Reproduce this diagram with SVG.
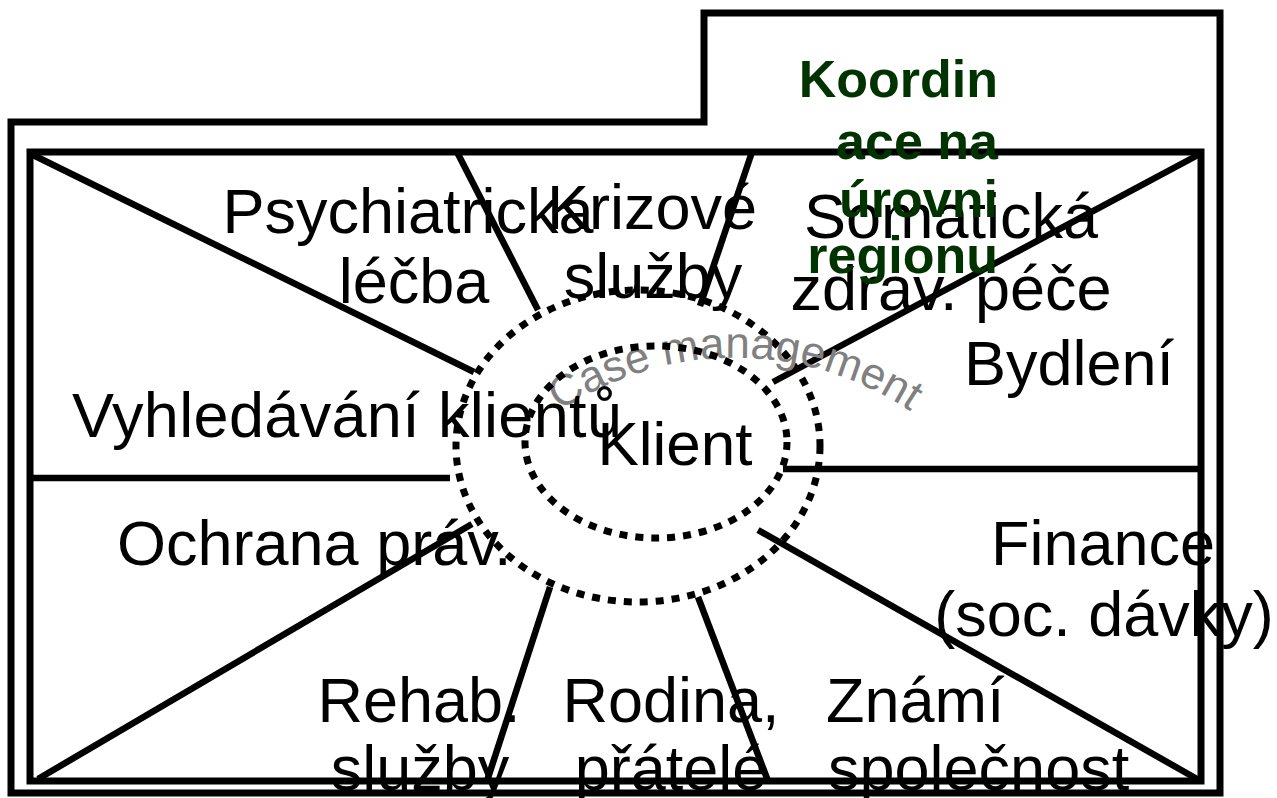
<svg xmlns="http://www.w3.org/2000/svg" width="1277" height="798" viewBox="0 0 1277 798">
<defs>
<style>
.frame{fill:none;stroke:#000;stroke-width:7;stroke-linejoin:miter}
.spoke{stroke:#000;stroke-width:6.5;fill:none}
.dot{fill:none;stroke:#000;stroke-width:7;stroke-dasharray:8 8}
.lbl{font-family:"Liberation Sans",Arial,sans-serif;font-size:63px;fill:#000}
.mid{text-anchor:middle}
.coord{font-family:"Liberation Sans",Arial,sans-serif;font-size:52px;font-weight:bold;fill:#003300;text-anchor:end}
.cm{font-family:"Liberation Sans",Arial,sans-serif;font-size:44px;fill:#808080}
</style>
<path id="cmArc" d="M533,431.5 A314,314 0 0 1 937,431.5"/>
</defs>
<rect width="1277" height="798" fill="#fff"/>
<g id="frames">
<path class="frame" d="M11,793 L11,122 L704,122 L704,13 L1220,13 L1220,793 Z"/>
<rect class="frame" x="30" y="152" width="1171" height="629"/>
</g>
<g id="connectors">
<line class="spoke" x1="33" y1="155" x2="474" y2="372"/>
<line class="spoke" x1="457" y1="152" x2="538" y2="310"/>
<line class="spoke" x1="752" y1="152" x2="700" y2="306"/>
<line class="spoke" x1="1198" y1="155" x2="773" y2="382"/>
<line class="spoke" x1="30" y1="478" x2="450" y2="478"/>
<line class="spoke" x1="783" y1="469" x2="1201" y2="469"/>
<line class="spoke" x1="758" y1="530" x2="1197" y2="779"/>
<line class="spoke" x1="698" y1="597" x2="768" y2="781"/>
<line class="spoke" x1="550" y1="587" x2="487" y2="781"/>
<line class="spoke" x1="472" y1="524" x2="38" y2="779"/>
</g>
<g id="case-management">
<ellipse class="dot" cx="638" cy="446" rx="182" ry="156"/>
<text class="cm"><textPath href="#cmArc" startOffset="50%" text-anchor="middle">Case management</textPath></text>
</g>
<g id="klient">
<ellipse class="dot" cx="656" cy="442" rx="131" ry="96"/>
<text class="lbl mid" x="675" y="465" style="font-size:62px">Klient</text>
</g>
<g id="psychiatricka">
<text class="lbl mid" x="408" y="233">Psychiatrická</text>
<text class="lbl mid" x="414" y="303">léčba</text>
</g>
<g id="krizove">
<text class="lbl mid" x="652" y="229">Krizové</text>
<text class="lbl mid" x="653" y="298">služby</text>
</g>
<g id="somaticka">
<text class="lbl mid" x="951" y="238">Somatická</text>
<text class="lbl mid" x="951" y="310">zdrav. péče</text>
</g>
<g id="bydleni">
<text class="lbl mid" x="1069" y="385">Bydlení</text>
</g>
<g id="vyhledavani">
<text class="lbl" x="72" y="437" textLength="550" lengthAdjust="spacing">Vyhledávání klientů</text>
</g>
<g id="ochrana">
<text class="lbl" x="117" y="565">Ochrana práv.</text>
</g>
<g id="finance">
<text class="lbl mid" x="1103" y="565">Finance</text>
<text class="lbl mid" x="1104" y="636">(soc. dávky)</text>
</g>
<g id="rehab">
<text class="lbl mid" x="419" y="722">Rehab.</text>
<text class="lbl mid" x="420" y="790">služby</text>
</g>
<g id="rodina">
<text class="lbl mid" x="671" y="722">Rodina,</text>
<text class="lbl mid" x="671" y="790">přátelé</text>
</g>
<g id="znami">
<text class="lbl" x="826" y="722">Známí</text>
<text class="lbl" x="828" y="790">společnost</text>
</g>
<g id="koordinace">
<text class="coord" x="998" y="97">Koordin</text>
<text class="coord" x="998" y="159">ace na</text>
<text class="coord" x="998" y="217">úrovni</text>
<text class="coord" x="998" y="273">regionu</text>
</g>
</svg>
